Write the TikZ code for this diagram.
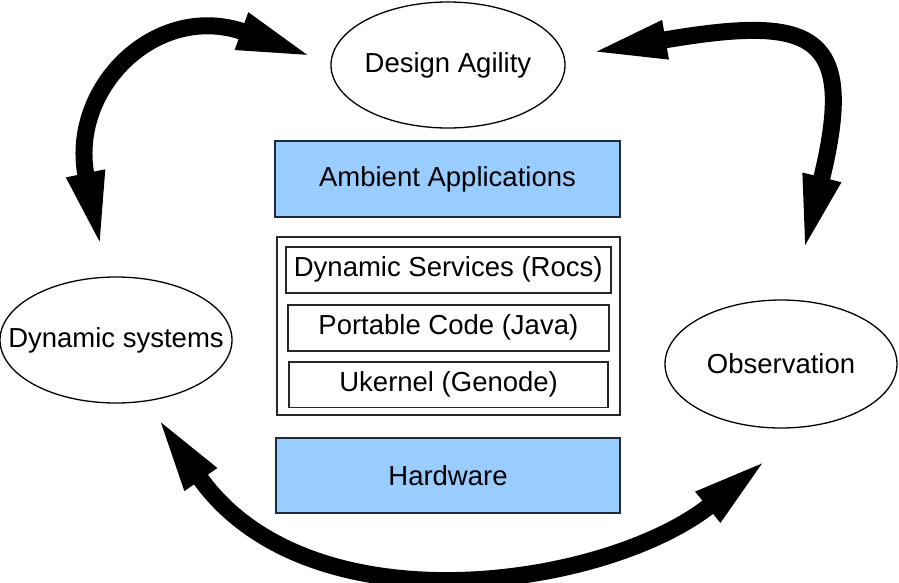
\documentclass[tikz,border=0pt]{standalone}
\usepackage{fontspec}
\setmainfont{Liberation Sans}
\usetikzlibrary{shapes.geometric,arrows.meta}
\definecolor{boxblue}{RGB}{153,204,255}
\definecolor{boxedge}{RGB}{28,42,60}
\begin{document}
\begin{tikzpicture}[x=1pt,y=-1pt,
  every node/.style={font=\fontsize{27.5}{33}\selectfont, inner sep=0pt},
  oval/.style={draw=black, line width=1.3pt, ellipse, inner xsep=-30pt},
  bluebox/.style={draw=boxedge, line width=2pt, fill=boxblue},
  layerbox/.style={draw=black!85, line width=1.6pt},
  cyclearrow/.style={line width=17pt,
    {Triangle[length=80pt,width=34pt]}-{Triangle[length=80pt,width=34pt]}}]
\useasboundingbox (0,0) rectangle (899,582);
\fill[white] (0,0) rectangle (899,582);
% ellipses
\node[oval, minimum width=234pt, minimum height=126pt] (design) at (448,65) {Design Agility};
\node[oval, minimum width=232pt, minimum height=126pt] (dynsys) at (116,340) {Dynamic systems};
\node[oval, minimum width=232pt, minimum height=128pt] (obs) at (781,364) {Observation};
% boxes
\node[bluebox, minimum width=345pt, minimum height=76pt] (ambient) at (447.5,179) {Ambient Applications};
\node[layerbox, minimum width=343pt, minimum height=178pt] (stack) at (448.3,326.2) {};
\node[layerbox, minimum width=325pt, minimum height=46pt] (rocs) at (448.2,269.7) {Dynamic Services (Rocs)};
\node[layerbox, minimum width=321pt, minimum height=45.7pt] (java) at (448.35,327.85) {Portable Code (Java)};
\node[layerbox, minimum width=319pt, minimum height=45.6pt] (genode) at (448.65,384.5) {Ukernel (Genode)};
\node[bluebox, minimum width=344pt, minimum height=75pt] (hw) at (448,475.5) {Hardware};
% arrow end points
\coordinate (tl1) at (101.7,251.7);
\coordinate (tl2) at (316.7,58.3);
\coordinate (tr1) at (586.7,53.3);
\coordinate (tr2) at (802.7,255);
\coordinate (b1) at (155,414);
\coordinate (b2) at (770,457);
% arrows
\draw[cyclearrow] (tl1) .. controls (68,88) and (156.9,0.5) .. (tl2);
\draw[cyclearrow] (tr1) .. controls (814.4,14.2) and (857.9,31.9) .. (tr2);
\draw[cyclearrow] (b1) .. controls (309,634) and (609,587) .. (b2);
\end{tikzpicture}
\end{document}
